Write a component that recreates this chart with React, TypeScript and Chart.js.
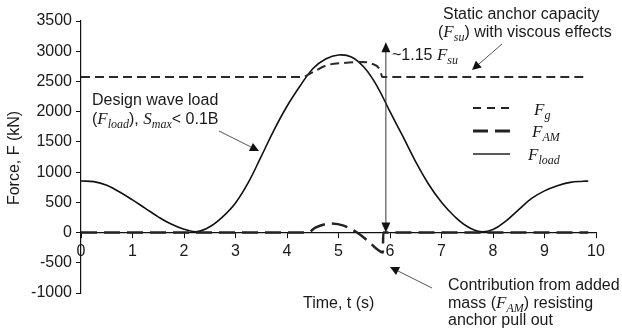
import React, { useEffect, useRef } from "react";
import { Chart, registerables } from "chart.js";

Chart.register(...registerables);

// Time axis (s) and force values (kN)
const loadTimes = [0, 0.25, 0.5, 0.75, 1.0, 1.25, 1.5, 1.75, 2.0, 2.25, 2.5, 2.75, 3.0, 3.25, 3.5, 3.75, 4.0, 4.25, 4.5, 4.75, 5.0, 5.25, 5.5, 5.75, 6.0, 6.25, 6.5, 6.75, 7.0, 7.25, 7.5, 7.75, 8.0, 8.25, 8.5, 8.75, 9.0, 9.25, 9.5, 9.75, 9.85];
const loadValues = [853, 842, 782, 670, 540, 400, 260, 140, 55, 15, 95, 260, 490, 830, 1260, 1700, 2090, 2420, 2710, 2870, 2938, 2905, 2730, 2420, 2000, 1590, 1170, 800, 500, 270, 100, 15, 50, 190, 380, 565, 690, 775, 830, 848, 853];

const fgTimes = [0, 4.3, 4.45, 4.77, 5.1, 5.42, 5.64, 5.81, 5.85, 9.85];
const fgValues = [2575, 2575, 2630, 2767, 2805, 2822, 2795, 2685, 2575, 2575];

const famTimes = [0, 4.4, 4.55, 4.84, 5.1, 5.36, 5.6, 5.77, 5.86, 5.87, 9.85];
const famValues = [0, 0, 80, 150, 115, 0, -160, -290, -330, 0, 0];

const xTickMin = 0;
const xTickMax = 10;
const yTickMin = -1000;
const yTickMax = 3500;
const arrowTime = 5.92;
const arrowTop = 3150;

const SANS = '"Liberation Sans", Arial, sans-serif';
const SERIF = '"Liberation Serif", "Times New Roman", serif';
const TEXT = "#1a1a1a";

type Seg = { t: string; f: string; dy?: number };

const sans = (s: string): Seg => ({ t: s, f: `16px ${SANS}` });
const mF = (s: string): Seg => ({ t: s, f: `italic 17px ${SERIF}` });
const sub = (s: string): Seg => ({ t: s, f: `italic 12px ${SERIF}`, dy: 4 });

function drawRich(ctx: CanvasRenderingContext2D, x: number, y: number, segs: Seg[]) {
  ctx.textBaseline = "alphabetic";
  ctx.textAlign = "left";
  let cx = x;
  for (const s of segs) {
    ctx.font = s.f;
    ctx.fillText(s.t, cx, y + (s.dy || 0));
    cx += ctx.measureText(s.t).width;
  }
}

function arrow(ctx: CanvasRenderingContext2D, x1: number, y1: number, x2: number, y2: number, color = "#555", head = 9, half = 4.5) {
  const ang = Math.atan2(y2 - y1, x2 - x1);
  const bx = x2 - head * Math.cos(ang);
  const by = y2 - head * Math.sin(ang);
  ctx.strokeStyle = color;
  ctx.lineWidth = 1;
  ctx.setLineDash([]);
  ctx.beginPath();
  ctx.moveTo(x1, y1);
  ctx.lineTo(bx, by);
  ctx.stroke();
  ctx.fillStyle = "#111";
  ctx.beginPath();
  ctx.moveTo(x2, y2);
  ctx.lineTo(bx + half * Math.sin(ang), by - half * Math.cos(ang));
  ctx.lineTo(bx - half * Math.sin(ang), by + half * Math.cos(ang));
  ctx.closePath();
  ctx.fill();
}

const annotations = {
  id: "annotations",
  afterDraw(chart: any) {
    const ctx: CanvasRenderingContext2D = chart.ctx;
    const xs = chart.scales.x;
    const ys = chart.scales.y;
    ctx.save();
    ctx.fillStyle = TEXT;

    // y-axis title
    ctx.save();
    ctx.translate(15, 158);
    ctx.rotate(-Math.PI / 2);
    ctx.font = `16px ${SANS}`;
    ctx.textAlign = "center";
    ctx.textBaseline = "middle";
    ctx.fillText("Force, F (kN)", 0, 0);
    ctx.restore();

    // x-axis title
    ctx.fillStyle = TEXT;
    drawRich(ctx, 303, 308, [sans("Time, t (s)")]);

    // Design wave load
    drawRich(ctx, 92, 104.5, [sans("Design wave load")]);
    drawRich(ctx, 92, 124, [sans("("), mF("F"), sub("load"), sans("), "), mF("S"), sub("max"), sans("< 0.1B")]);
    arrow(ctx, 219, 131, 259, 151);

    // Static anchor capacity
    ctx.fillStyle = TEXT;
    drawRich(ctx, 443, 18.5, [sans("Static anchor capacity")]);
    drawRich(ctx, 438, 36.5, [sans("("), mF("F"), sub("su"), sans(") with viscous effects")]);
    arrow(ctx, 502, 44, 472, 70);

    // ~1.15 Fsu
    ctx.fillStyle = TEXT;
    drawRich(ctx, 392, 60, [sans("~1.15 "), mF("F"), sub("su")]);

    // vertical double arrow
    const ax = xs.getPixelForValue(arrowTime);
    const a0 = ys.getPixelForValue(0);
    const a1 = ys.getPixelForValue(arrowTop);
    ctx.strokeStyle = "#333";
    ctx.lineWidth = 1;
    ctx.beginPath();
    ctx.moveTo(ax, a0 - 9);
    ctx.lineTo(ax, a1 + 9);
    ctx.stroke();
    ctx.fillStyle = "#111";
    ctx.beginPath();
    ctx.moveTo(ax, a1);
    ctx.lineTo(ax - 4.5, a1 + 10);
    ctx.lineTo(ax + 4.5, a1 + 10);
    ctx.closePath();
    ctx.fill();
    ctx.beginPath();
    ctx.moveTo(ax, a0);
    ctx.lineTo(ax - 4.5, a0 - 10);
    ctx.lineTo(ax + 4.5, a0 - 10);
    ctx.closePath();
    ctx.fill();

    // Contribution from added mass
    ctx.fillStyle = TEXT;
    drawRich(ctx, 448, 290, [sans("Contribution from added")]);
    drawRich(ctx, 448, 308, [sans("mass ("), mF("F"), sub("AM"), sans(") resisting")]);
    drawRich(ctx, 448, 325, [sans("anchor pull out")]);
    arrow(ctx, 432, 288, 390, 267);

    // Legend
    const lx1 = 473;
    const lx2 = 510;
    ctx.strokeStyle = "#222";
    ctx.lineWidth = 2;
    ctx.setLineDash([8, 6]);
    ctx.beginPath();
    ctx.moveTo(lx1, 108);
    ctx.lineTo(lx2, 108);
    ctx.stroke();
    ctx.lineWidth = 3;
    ctx.setLineDash([15, 7]);
    ctx.beginPath();
    ctx.moveTo(lx1, 131);
    ctx.lineTo(lx2, 131);
    ctx.stroke();
    ctx.lineWidth = 1.5;
    ctx.setLineDash([]);
    ctx.beginPath();
    ctx.moveTo(lx1, 154);
    ctx.lineTo(lx2, 154);
    ctx.stroke();
    ctx.fillStyle = TEXT;
    drawRich(ctx, 534, 114.5, [mF("F"), sub("g")]);
    drawRich(ctx, 532, 136.5, [mF("F"), sub("AM")]);
    drawRich(ctx, 528, 159.5, [mF("F"), sub("load")]);

    ctx.restore();
  },
};

function pts(ts: number[], vs: number[]) {
  return ts.map((t, i) => ({ x: t, y: vs[i] }));
}

export default function App() {
  const ref = useRef<HTMLCanvasElement | null>(null);
  useEffect(() => {
    if (!ref.current) return;
    const chart = new Chart(ref.current, {
      type: "line",
      data: {
        datasets: [
          {
            label: "Fg",
            data: pts(fgTimes, fgValues),
            borderColor: "#2a2a2a",
            borderWidth: 2,
            borderDash: [9, 5],
            pointRadius: 0,
            cubicInterpolationMode: "monotone",
          },
          {
            label: "FAM",
            data: pts(famTimes, famValues),
            borderColor: "#222",
            borderWidth: 2.5,
            borderDash: [16, 7],
            pointRadius: 0,
            cubicInterpolationMode: "monotone",
          },
          {
            label: "Fload",
            data: pts(loadTimes, loadValues),
            borderColor: "#111",
            borderWidth: 1.6,
            pointRadius: 0,
            tension: 0.4,
          },
        ],
      },
      options: {
        animation: false,
        responsive: false,
        devicePixelRatio: 1,
        layout: { padding: { left: 0, right: 26, top: 21, bottom: 36 } },
        scales: {
          x: {
            type: "linear",
            min: xTickMin,
            max: xTickMax,
            position: { y: 0 } as any,
            ticks: {
              stepSize: 1,
              autoSkip: false,
              maxRotation: 0,
              padding: 4,
              color: TEXT,
              font: { family: SANS, size: 16 },
              callback: (v: any) => String(v),
            },
            grid: { drawOnChartArea: false, drawTicks: true, tickLength: 5, color: "#111" },
            border: { display: true, color: "#111", width: 1.2 },
          },
          y: {
            type: "linear",
            min: yTickMin,
            max: yTickMax,
            ticks: {
              stepSize: 500,
              padding: 4,
              color: TEXT,
              font: { family: SANS, size: 16 },
              callback: (v: any) => String(v),
            },
            grid: { drawOnChartArea: false, drawTicks: true, tickLength: 5, color: "#111" },
            border: { display: true, color: "#111", width: 1.2 },
            afterFit: (s: any) => {
              s.width = 81;
            },
          },
        },
        plugins: {
          legend: { display: false },
          tooltip: { enabled: false },
        },
      },
      plugins: [annotations],
    });
    return () => chart.destroy();
  }, []);
  return (
    <div style={{ position: "absolute", left: 0, top: 0, width: 622, height: 329, background: "#fff" }}>
      <canvas ref={ref} width={622} height={329} />
    </div>
  );
}
